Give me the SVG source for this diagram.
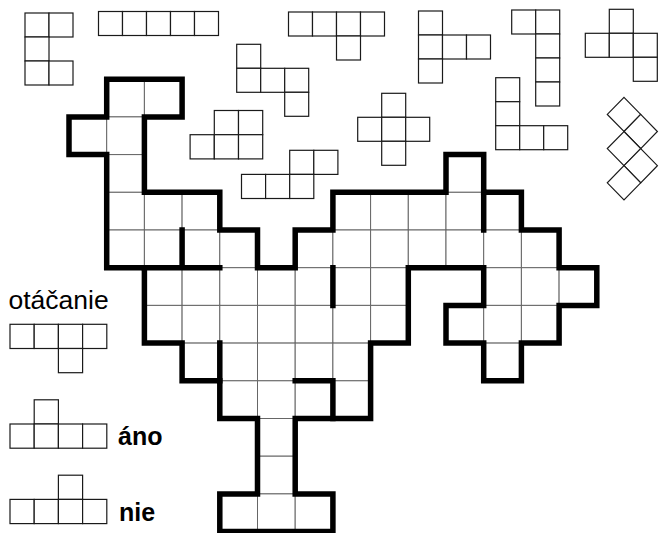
<svg xmlns="http://www.w3.org/2000/svg" width="659" height="533" viewBox="0 0 659 533">
<style>
.p rect,.p path{fill:#fff;stroke:#1a1a1a;stroke-width:1.2}
.g rect{fill:#fff;stroke:#666;stroke-width:1}
.thick{fill:none;stroke:#000;stroke-width:5.5;stroke-linejoin:miter;stroke-linecap:square}
.t{font-family:"Liberation Sans",Arial,sans-serif;font-size:25px;fill:#000}
.b{font-weight:bold}
</style>
<rect width="659" height="533" fill="#fff"/>
<g id="pieceA" class="p">
<rect x="25" y="13" width="24" height="24"/><rect x="49" y="13" width="24" height="24"/>
<rect x="25" y="37" width="24" height="24"/>
<rect x="25" y="61" width="24" height="24"/><rect x="49" y="61" width="24" height="24"/>
</g>
<g id="pieceB" class="p">
<rect x="98.5" y="11.5" width="24" height="24"/><rect x="122.5" y="11.5" width="24" height="24"/><rect x="146.5" y="11.5" width="24" height="24"/><rect x="170.5" y="11.5" width="24" height="24"/><rect x="194.5" y="11.5" width="24" height="24"/>
</g>
<g id="pieceC" class="p">
<rect x="288.5" y="12" width="24" height="24"/><rect x="312.5" y="12" width="24" height="24"/><rect x="336.5" y="12" width="24" height="24"/><rect x="360.5" y="12" width="24" height="24"/>
<rect x="336.5" y="36" width="24" height="24"/>
</g>
<g id="pieceD" class="p">
<rect x="418.5" y="11" width="24" height="24"/>
<rect x="418.5" y="35" width="24" height="24"/><rect x="442.5" y="35" width="24" height="24"/><rect x="466.5" y="35" width="24" height="24"/>
<rect x="418.5" y="59" width="24" height="24"/>
</g>
<g id="pieceE" class="p">
<rect x="236.7" y="44.3" width="24" height="24"/>
<rect x="236.7" y="68.3" width="24" height="24"/><rect x="260.7" y="68.3" width="24" height="24"/><rect x="284.7" y="68.3" width="24" height="24"/>
<rect x="284.7" y="92.3" width="24" height="24"/>
</g>
<g id="pieceF" class="p">
<rect x="381.7" y="93.3" width="24" height="24"/>
<rect x="357.7" y="117.3" width="24" height="24"/><rect x="381.7" y="117.3" width="24" height="24"/><rect x="405.7" y="117.3" width="24" height="24"/>
<rect x="381.7" y="141.3" width="24" height="24"/>
</g>
<g id="pieceG" class="p">
<rect x="511.7" y="10" width="24" height="24"/><rect x="535.7" y="10" width="24" height="24"/>
<rect x="535.7" y="34" width="24" height="24"/>
<rect x="535.7" y="58" width="24" height="24"/>
<rect x="535.7" y="82" width="24" height="24"/>
</g>
<g id="pieceH" class="p">
<rect x="609.3" y="9.3" width="24" height="24"/>
<rect x="585.3" y="33.3" width="24" height="24"/><rect x="609.3" y="33.3" width="24" height="24"/><rect x="633.3" y="33.3" width="24" height="24"/>
<rect x="633.3" y="57.3" width="24" height="24"/>
</g>
<g id="pieceI" class="p">
<rect x="495.7" y="77.7" width="24" height="24"/>
<rect x="495.7" y="101.7" width="24" height="24"/>
<rect x="495.7" y="125.7" width="24" height="24"/><rect x="519.7" y="125.7" width="24" height="24"/><rect x="543.7" y="125.7" width="24" height="24"/>
</g>
<g id="pieceJ" class="p">
<path d="M624 97.3 L640.7 114.4 L624 131.5 L607.3 114.4 Z"/>
<path d="M640.7 114.4 L657.4 131.5 L640.7 148.6 L624 131.5 Z"/>
<path d="M624 131.5 L640.7 148.6 L624 165.7 L607.3 148.6 Z"/>
<path d="M640.7 148.6 L657.4 165.7 L640.7 182.8 L624 165.7 Z"/>
<path d="M624 165.7 L640.7 182.8 L624 199.9 L607.3 182.8 Z"/>
</g>
<g id="pieceK" class="p">
<rect x="214.3" y="110.5" width="24.2" height="24.2"/><rect x="238.5" y="110.5" width="24.2" height="24.2"/>
<rect x="190.1" y="134.7" width="24.2" height="24.2"/><rect x="214.3" y="134.7" width="24.2" height="24.2"/><rect x="238.5" y="134.7" width="24.2" height="24.2"/>
</g>
<g id="pieceL" class="p">
<rect x="289.7" y="150.3" width="24.1" height="24.1"/><rect x="313.8" y="150.3" width="24.1" height="24.1"/>
<rect x="241.5" y="174.4" width="24.1" height="24.1"/><rect x="265.6" y="174.4" width="24.1" height="24.1"/><rect x="289.7" y="174.4" width="24.1" height="24.1"/>
</g>
<g id="board">
<g class="g">
<rect x="106.7" y="79.2" width="37.7" height="37.7"/><rect x="144.4" y="79.2" width="37.7" height="37.7"/>
<rect x="69" y="116.9" width="37.7" height="37.7"/><rect x="106.7" y="116.9" width="37.7" height="37.7"/>
<rect x="106.7" y="154.6" width="37.7" height="37.7"/><rect x="446" y="154.6" width="37.7" height="37.7"/>
<rect x="106.7" y="192.3" width="37.7" height="37.7"/><rect x="144.4" y="192.3" width="37.7" height="37.7"/><rect x="182.1" y="192.3" width="37.7" height="37.7"/>
<rect x="332.9" y="192.3" width="37.7" height="37.7"/><rect x="370.6" y="192.3" width="37.7" height="37.7"/><rect x="408.3" y="192.3" width="37.7" height="37.7"/><rect x="446" y="192.3" width="37.7" height="37.7"/><rect x="483.7" y="192.3" width="37.7" height="37.7"/>
<rect x="106.7" y="230" width="37.7" height="37.7"/><rect x="144.4" y="230" width="37.7" height="37.7"/><rect x="182.1" y="230" width="37.7" height="37.7"/><rect x="219.8" y="230" width="37.7" height="37.7"/>
<rect x="295.2" y="230" width="37.7" height="37.7"/><rect x="332.9" y="230" width="37.7" height="37.7"/><rect x="370.6" y="230" width="37.7" height="37.7"/><rect x="408.3" y="230" width="37.7" height="37.7"/><rect x="446" y="230" width="37.7" height="37.7"/><rect x="483.7" y="230" width="37.7" height="37.7"/><rect x="521.4" y="230" width="37.7" height="37.7"/>
<rect x="144.4" y="267.7" width="37.7" height="37.7"/><rect x="182.1" y="267.7" width="37.7" height="37.7"/><rect x="219.8" y="267.7" width="37.7" height="37.7"/><rect x="257.5" y="267.7" width="37.7" height="37.7"/><rect x="295.2" y="267.7" width="37.7" height="37.7"/><rect x="332.9" y="267.7" width="37.7" height="37.7"/><rect x="370.6" y="267.7" width="37.7" height="37.7"/>
<rect x="483.7" y="267.7" width="37.7" height="37.7"/><rect x="521.4" y="267.7" width="37.7" height="37.7"/><rect x="559.1" y="267.7" width="37.7" height="37.7"/>
<rect x="144.4" y="305.4" width="37.7" height="37.7"/><rect x="182.1" y="305.4" width="37.7" height="37.7"/><rect x="219.8" y="305.4" width="37.7" height="37.7"/><rect x="257.5" y="305.4" width="37.7" height="37.7"/><rect x="295.2" y="305.4" width="37.7" height="37.7"/><rect x="332.9" y="305.4" width="37.7" height="37.7"/><rect x="370.6" y="305.4" width="37.7" height="37.7"/>
<rect x="446" y="305.4" width="37.7" height="37.7"/><rect x="483.7" y="305.4" width="37.7" height="37.7"/><rect x="521.4" y="305.4" width="37.7" height="37.7"/>
<rect x="182.1" y="343.1" width="37.7" height="37.7"/><rect x="219.8" y="343.1" width="37.7" height="37.7"/><rect x="257.5" y="343.1" width="37.7" height="37.7"/><rect x="295.2" y="343.1" width="37.7" height="37.7"/><rect x="332.9" y="343.1" width="37.7" height="37.7"/>
<rect x="483.7" y="343.1" width="37.7" height="37.7"/>
<rect x="219.8" y="380.8" width="37.7" height="37.7"/><rect x="257.5" y="380.8" width="37.7" height="37.7"/><rect x="295.2" y="380.8" width="37.7" height="37.7"/><rect x="332.9" y="380.8" width="37.7" height="37.7"/>
<rect x="257.5" y="418.5" width="37.7" height="37.7"/>
<rect x="257.5" y="456.2" width="37.7" height="37.7"/>
<rect x="219.8" y="493.9" width="37.7" height="37.7"/><rect x="257.5" y="493.9" width="37.7" height="37.7"/><rect x="295.2" y="493.9" width="37.7" height="37.7"/>
</g>
<path class="thick" d="M106.7 79.2 H182.1 V116.9 H144.4 V192.3 H219.8 V230 H257.5 V267.7 H295.2 V230 H332.9 V192.3 H446 V154.6 H483.7 V192.3 H521.4 V230 H559.1 V267.7 H596.8 V305.4 H559.1 V343.1 H521.4 V380.8 H483.7 V343.1 H446 V305.4 H483.7 V267.7 H408.3 V343.1 H370.6 V418.5 H295.2 V493.9 H332.9 V531.6 H219.8 V493.9 H257.5 V418.5 H219.8 V380.8 H182.1 V343.1 H144.4 V267.7 H106.7 V154.6 H69 V116.9 H106.7 Z"/>
<path class="thick" d="M182.1 230 V267.7 M144.4 267.7 H219.8 M332.9 267.7 V305.4 M483.7 192.3 V230 M219.8 343.1 V380.8 M295.2 380.8 H332.9 M332.9 380.8 V418.5"/>
</g>
<g id="label-otacanie"><text class="t" x="8.5" y="309" style="font-size:26.5px">otáčanie</text></g>
<g id="pieceM" class="p">
<rect x="10" y="324.3" width="24.2" height="24.2"/><rect x="34.2" y="324.3" width="24.2" height="24.2"/><rect x="58.4" y="324.3" width="24.2" height="24.2"/><rect x="82.6" y="324.3" width="24.2" height="24.2"/>
<rect x="58.4" y="348.5" width="24.2" height="24.2"/>
</g>
<g id="pieceN" class="p">
<rect x="34.2" y="399.8" width="24.2" height="24.2"/>
<rect x="10" y="424" width="24.2" height="24.2"/><rect x="34.2" y="424" width="24.2" height="24.2"/><rect x="58.4" y="424" width="24.2" height="24.2"/><rect x="82.6" y="424" width="24.2" height="24.2"/>
</g>
<g id="label-ano"><text class="t b" x="118" y="445">áno</text></g>
<g id="pieceO" class="p">
<rect x="58.4" y="475.2" width="24.2" height="24.2"/>
<rect x="10" y="499.4" width="24.2" height="24.2"/><rect x="34.2" y="499.4" width="24.2" height="24.2"/><rect x="58.4" y="499.4" width="24.2" height="24.2"/><rect x="82.6" y="499.4" width="24.2" height="24.2"/>
</g>
<g id="label-nie"><text class="t b" x="119" y="521">nie</text></g>
</svg>
